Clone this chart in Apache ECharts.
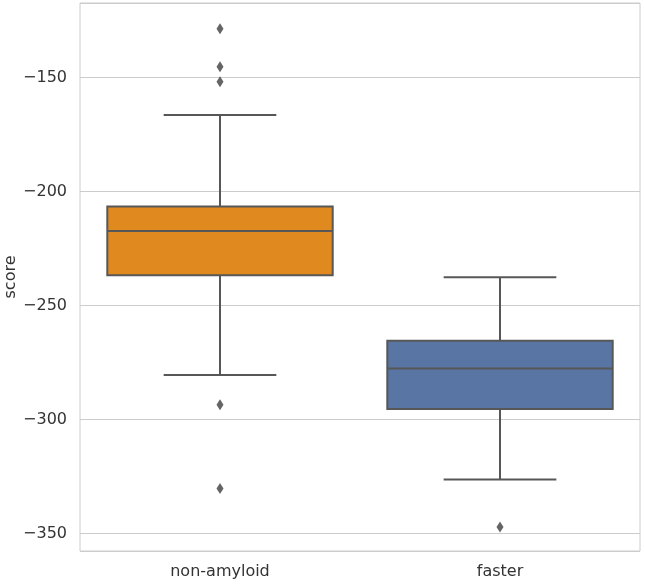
<!DOCTYPE html>
<html>
<head>
<meta charset="utf-8">
<script src="https://cdn.jsdelivr.net/npm/echarts@6/dist/echarts.min.js"></script>
<style>html,body{margin:0;padding:0;background:#fff;}#c{width:645px;height:584px;}</style>
</head>
<body>
<div id="c"></div>
<script>
const categories = ['non-amyloid', 'faster'];
const whiskerLow = [-280.4, -326.2];
const q1 = [-236.7, -295.3];
const median = [-217.3, -277.6];
const q3 = [-206.5, -265.4];
const whiskerHigh = [-166.4, -237.6];
const boxColors = ['#e0891f', '#5875a4'];
const nonAmyloidOutliers = [-128.6, -145.2, -151.8, -293.5, -330.2];
const fasterOutliers = [-347.1];

const lineColor = '#575757';
const boxData = categories.map((c, i) => [i, whiskerLow[i], q1[i], median[i], q3[i], whiskerHigh[i]]);
const outlierData = [];
nonAmyloidOutliers.forEach(v => outlierData.push([0, v]));
fasterOutliers.forEach(v => outlierData.push([1, v]));

const chart = echarts.init(document.getElementById('c'));
chart.setOption({
  animation: false,
  backgroundColor: '#fff',
  grid: { left: 80, right: 5, top: 3, bottom: 33, show: true, borderColor: '#cccccc', borderWidth: 1,
    containLabel: false, outerBoundsMode: 'none' },
  xAxis: {
    type: 'category', data: categories, boundaryGap: true,
    axisLine: { show: false }, axisTick: { show: false }, splitLine: { show: false },
    axisLabel: { color: '#333', fontSize: 16, fontFamily: 'DejaVu Sans', margin: 13 }
  },
  yAxis: {
    type: 'value', min: -357.6, max: -117.3, splitNumber: 5,
    name: 'score', nameLocation: 'middle', nameGap: 61, nameMoveOverlap: false,
    nameTextStyle: { color: '#333', fontSize: 16, fontFamily: 'DejaVu Sans' },
    axisLine: { show: false }, axisTick: { show: false },
    splitLine: { lineStyle: { color: '#cccccc', width: 1 } },
    axisLabel: { color: '#333', fontSize: 16, fontFamily: 'DejaVu Sans', margin: 13, showMinLabel: false, showMaxLabel: false,
      formatter: v => (v < 0 ? '\u2212' + Math.abs(v) : String(v)) }
  },
  series: [
    {
      type: 'custom',
      data: boxData,
      encode: { x: 0, y: [1, 2, 3, 4, 5] },
      renderItem: function (params, api) {
        const idx = api.value(0);
        const band = api.size([1, 0])[0];
        const bw = band * 0.805;
        const cw = bw * 0.5;
        const pLow = api.coord([idx, api.value(1)]);
        const pQ1 = api.coord([idx, api.value(2)]);
        const pMed = api.coord([idx, api.value(3)]);
        const pQ3 = api.coord([idx, api.value(4)]);
        const pHigh = api.coord([idx, api.value(5)]);
        const x = pMed[0];
        const ls = { stroke: lineColor, lineWidth: 2 };
        return {
          type: 'group',
          children: [
            { type: 'line', shape: { x1: x, y1: pHigh[1], x2: x, y2: pQ3[1] }, style: ls },
            { type: 'line', shape: { x1: x, y1: pQ1[1], x2: x, y2: pLow[1] }, style: ls },
            { type: 'line', shape: { x1: x - cw / 2, y1: pHigh[1], x2: x + cw / 2, y2: pHigh[1] }, style: ls },
            { type: 'line', shape: { x1: x - cw / 2, y1: pLow[1], x2: x + cw / 2, y2: pLow[1] }, style: ls },
            { type: 'rect', shape: { x: x - bw / 2, y: pQ3[1], width: bw, height: pQ1[1] - pQ3[1] },
              style: { fill: boxColors[idx], stroke: lineColor, lineWidth: 2 } },
            { type: 'line', shape: { x1: x - bw / 2, y1: pMed[1], x2: x + bw / 2, y2: pMed[1] }, style: ls }
          ]
        };
      }
    },
    {
      type: 'scatter',
      data: outlierData,
      symbol: 'diamond',
      symbolSize: [7, 11],
      itemStyle: { color: '#3f3f3f' },
      z: 5
    }
  ]
});
</script>
</body>
</html>
